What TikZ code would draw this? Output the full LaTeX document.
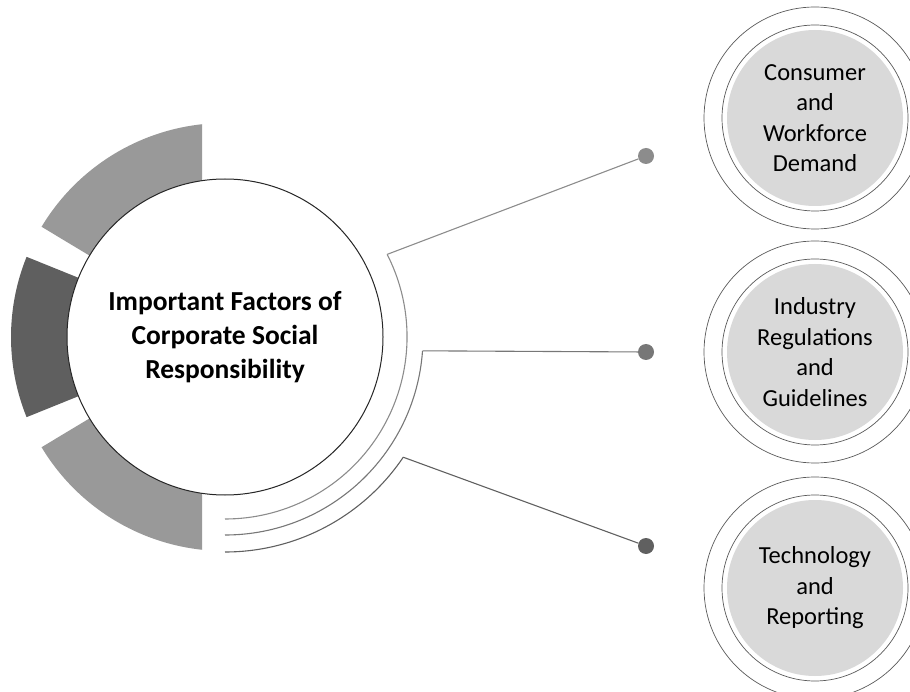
\documentclass[tikz,border=0pt]{standalone}
\usepackage{fontspec}
\setmainfont{Carlito}

\definecolor{seglight}{HTML}{999999}
\definecolor{segdark}{HTML}{5F5F5F}
\definecolor{bubblefill}{HTML}{D9D9D9}
\definecolor{lineA}{HTML}{8C8C8C}
\definecolor{lineB}{HTML}{777777}
\definecolor{lineC}{HTML}{606060}

\tikzset{
	hub/.style={circle, draw=black!85, line width=1pt, fill=white, minimum size=316pt, inner sep=0pt, align=center, font=\fontsize{27.5}{34}\selectfont\bfseries},
	outerring/.style={circle, draw=black!65, line width=.7pt, minimum size=222pt, inner sep=0pt},
	innerring/.style={circle, draw=black!65, line width=.7pt, fill=white, minimum size=186pt, inner sep=0pt},
	bubble/.style={circle, fill=bubblefill, minimum size=176pt, inner sep=0pt, align=center, font=\fontsize{24.5}{30.5}\selectfont},
	enddot/.style={circle, fill=#1, minimum size=16pt, inner sep=0pt},
	branch/.style={line width=1.1pt}
}

\begin{document}
\begin{tikzpicture}[x=1pt, y=1pt]
	\useasboundingbox (0,0) rectangle (910,-692);
	\coordinate (o) at (225,-337);
	
	% ring segments behind the hub, cut straight at x = 202
	\begin{scope}
		\clip (0,0) rectangle (202,-692);
		\foreach \a/\b/\c in {90/149/seglight, 158/202/segdark, 211/270/seglight} {
			\fill[\c] (o) -- ++(\a:214) arc[start angle=\a, end angle=\b, radius=214] -- cycle;
		}
	\end{scope}
	\node[hub] (hub) at (o) {Important Factors of\\Corporate Social\\Responsibility};
	
	% arcs round the hub
	\foreach \n/\s/\r/\c in {1/27/182/lineA, 2/-4/198/lineB, 3/-34/215/lineC} {
		\path (o) ++(\s:\r) coordinate (arc\n);
		\draw[\c, branch] (arc\n) arc[start angle=\s, end angle=-90, radius=\r];
	}
	
	% branches
	\foreach \n/\y/\c in {1/156/lineA, 2/352/lineB, 3/546/lineC} {
		\node[enddot=\c] (dot\n) at (646,-\y) {};
		\draw[\c, branch] (arc\n) -- (dot\n);
	}
	
	% factor bubbles
	\foreach \n/\y/\txt in {1/118/{Consumer\\and\\Workforce\\Demand}, 2/352/{Industry\\Regulations\\and\\Guidelines}, 3/588/{Technology\\and\\Reporting}} {
		\node[outerring] (ring\n) at (815,-\y) {};
		\node[innerring] (edge\n) at (ring\n) {};
		\node[bubble] (item\n) at (ring\n) {\txt};
	}
\end{tikzpicture}
\end{document}
